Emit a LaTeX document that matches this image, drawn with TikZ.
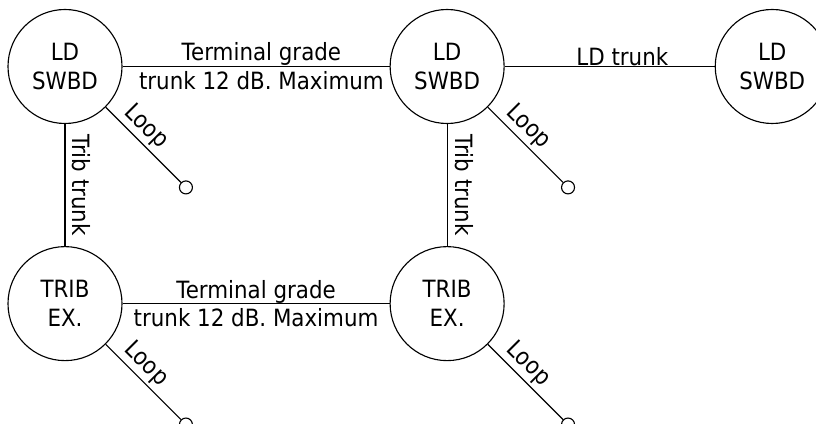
\documentclass[tikz,border=0pt]{standalone}
\usepackage{fontspec}
\setmainfont{DejaVu Sans}[FakeStretch=0.9]
\usetikzlibrary{positioning, calc}

\begin{document}
\begin{tikzpicture}[
    font=\fontsize{16.9pt}{20.6pt}\selectfont,
    line width=0.8pt,
    node distance=3.05cm and 6.675cm,
    exch/.style={circle, draw, minimum size=2.85cm, inner sep=0pt, align=center},
    term/.style={circle, draw, minimum size=0.325cm, inner sep=0pt},
    toplabel/.style={above, inner sep=0pt},
    botlabel/.style={below, inner sep=0pt, yshift=-3pt},
    looplabel/.style={pos=0.4, sloped, above, inner sep=2pt}
]

% Page frame
\useasboundingbox (-1.625,-8.9375) rectangle (18.775,1.6625);

% Long distance switchboards
\node[exch] (ld1) {LD\\SWBD};
\node[exch, right=of ld1] (ld2) {LD\\SWBD};
\node[exch, right=5.25cm of ld2] (ld3) {LD\\SWBD};

% Tributary exchanges
\node[exch, below=of ld1] (tr1) {TRIB\\EX.};
\node[exch, right=of tr1] (tr2) {TRIB\\EX.};

% Subscriber loop ends
\foreach \n in {ld1, ld2, tr1, tr2}
    \node[term] (\n-end) at ($(\n)+(-45:4.275cm)$) {};

% Trunks
\draw (ld1) -- (ld2)
    node[toplabel, pos=0.52] {Terminal grade}
    node[botlabel, pos=0.52] {trunk 12 dB. Maximum};
\draw (ld2) -- (ld3) node[toplabel, pos=0.56] {LD trunk};
\draw (tr1) -- (tr2)
    node[toplabel, midway] {Terminal grade}
    node[botlabel, midway] {trunk 12 dB. Maximum};
\draw (ld1) -- (tr1) node[midway, sloped, above, inner sep=5pt] {Trib trunk};
\draw (ld2) -- (tr2) node[midway, sloped, above, inner sep=5pt] {Trib trunk};

% Loops
\foreach \n in {ld1, ld2, tr1, tr2}
    \draw (\n) -- (\n-end) node[looplabel] {Loop};

\end{tikzpicture}
\end{document}
